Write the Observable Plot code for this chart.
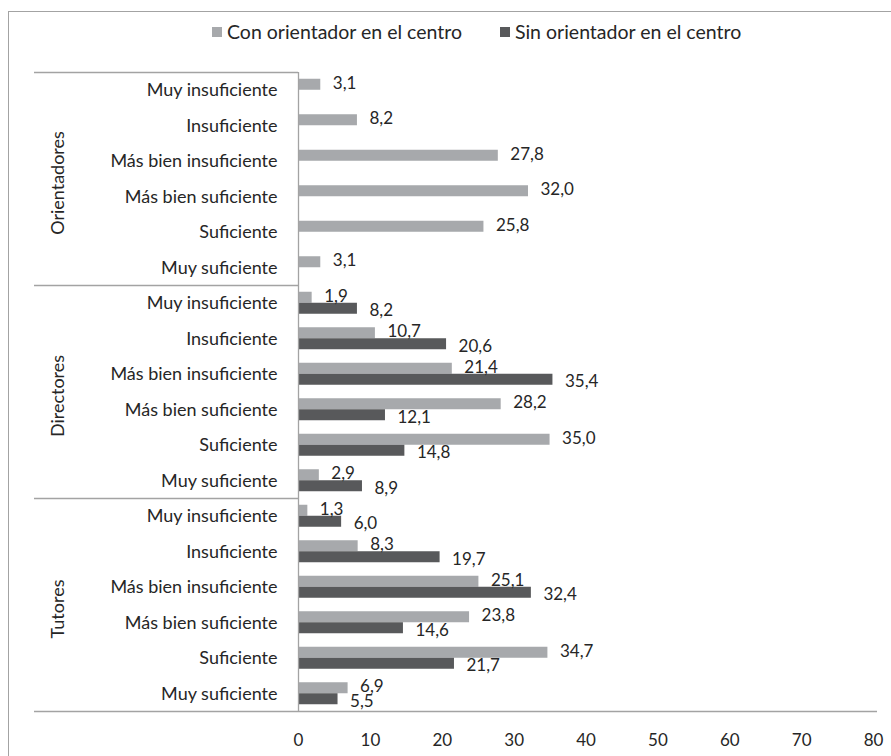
<!DOCTYPE html>
<html>
<head>
<meta charset="utf-8">
<script src="https://cdn.jsdelivr.net/npm/d3@7"></script>
<script src="https://cdn.jsdelivr.net/npm/@observablehq/plot@0.6"></script>
<style>
  html, body { margin: 0; padding: 0; background: #fff; }
  body { width: 891px; height: 756px; position: relative; overflow: hidden; font-family: Lato, "Open Sans", sans-serif; color: #262626; }
  #frame { position: absolute; left: 8px; top: 11px; width: 1000px; height: 900px; border: 1.5px solid #a3a3a3; box-sizing: border-box; }
  #legend { position: absolute; left: 212px; top: 20px; font-size: 19.5px; display: flex; gap: 38px; white-space: nowrap; }
  #legend span.item { display: inline-flex; align-items: center; gap: 5px; }
  #legend i { display: inline-block; width: 10px; height: 10px; }
  #chart { position: absolute; left: 0; top: 60px; }
</style>
</head>
<body>
<div id="frame"></div>
<div id="legend"></div>
<div id="chart"></div>
<script>
const groups = ["Orientadores", "Directores", "Tutores"];
const categories = ["Muy insuficiente", "Insuficiente", "Más bien insuficiente", "Más bien suficiente", "Suficiente", "Muy suficiente"];
const seriesNames = ["Con orientador en el centro", "Sin orientador en el centro"];
const seriesColors = ["#a7a9ac", "#58595b"];
// values per group, in category order
const conValues = [
  [3.1, 8.2, 27.8, 32.0, 25.8, 3.1],
  [1.9, 10.7, 21.4, 28.2, 35.0, 2.9],
  [1.3, 8.3, 25.1, 23.8, 34.7, 6.9]
];
const sinValues = [
  [null, null, null, null, null, null],
  [8.2, 20.6, 35.4, 12.1, 14.8, 8.9],
  [6.0, 19.7, 32.4, 14.6, 21.7, 5.5]
];
const xTicks = [0, 10, 20, 30, 40, 50, 60, 70, 80];

const keys = [];
const conRows = [], sinRows = [];
groups.forEach((g, gi) => categories.forEach((c, ci) => {
  const key = g + "|" + c;
  keys.push(key);
  if (conValues[gi][ci] != null) conRows.push({key, v: conValues[gi][ci]});
  if (sinValues[gi][ci] != null) sinRows.push({key, v: sinValues[gi][ci]});
}));
const groupStarts = groups.map(g => g + "|" + categories[0]);
const groupMids = groups.map(g => ({key: g + "|" + categories[2], label: g}));
const lastKey = keys[keys.length - 1];

const W = 891, H = 700, mT = 12, mB = 49, mL = 298, mR = 18;
const step = (H - mT - mB) / keys.length;
const half = step / 2;
const barH = 11;
const pad = half - barH;
const fmt = d => d.toFixed(1).replace(".", ",");
const lineColor = "#a3a3a3";
const txt = "#262626";

// legend
const legend = document.getElementById("legend");
seriesNames.forEach((n, i) => {
  const s = document.createElement("span");
  s.className = "item";
  s.innerHTML = `<i style="background:${seriesColors[i]}"></i>${n}`;
  legend.appendChild(s);
});

const chart = Plot.plot({
  width: W, height: H,
  marginTop: mT, marginBottom: mB, marginLeft: mL, marginRight: mR,
  style: {fontFamily: "Lato, 'Open Sans', sans-serif", fontSize: "17px", color: txt, background: "transparent", overflow: "visible"},
  x: {domain: [0, 80], ticks: xTicks, tickSize: 0, tickPadding: 22, label: null},
  y: {domain: keys, padding: 0, round: false, label: null},
  marks: [
    Plot.axisX({ticks: xTicks, tickSize: 0, tickPadding: 22, fontSize: 17, label: null}),
    Plot.axisY({tickSize: 0, tickPadding: 21, fontSize: 18, label: null, tickFormat: k => k.split("|")[1]}),
    Plot.barX(conRows, {x: "v", y: "key", fill: seriesColors[0], insetTop: pad, insetBottom: half}),
    Plot.barX(sinRows, {x: "v", y: "key", fill: seriesColors[1], insetTop: half, insetBottom: pad}),
    Plot.text(conRows, {x: "v", y: "key", text: d => fmt(d.v), dx: 12, dy: -barH / 2 - 1.5, textAnchor: "start", fill: txt, fontSize: 17}),
    Plot.text(sinRows, {x: "v", y: "key", text: d => fmt(d.v), dx: 12, dy: barH / 2 + 2, textAnchor: "start", fill: txt, fontSize: 17}),
    Plot.ruleY(groupStarts, {y: d => d, x1: 0, x2: 0, dy: -half, insetLeft: -264, stroke: lineColor, strokeWidth: 1.3}),
    Plot.ruleY([lastKey], {y: d => d, dy: half, insetLeft: -264, insetRight: -4, stroke: lineColor, strokeWidth: 1.3}),
    Plot.ruleX([0], {stroke: lineColor, strokeWidth: 1.3}),
    Plot.text(groupMids, {y: "key", text: "label", rotate: -90, frameAnchor: "left", textAnchor: "middle", dx: -240, dy: half + 4, fill: txt, fontSize: 18})
  ]
});
document.getElementById("chart").appendChild(chart);
</script>
</body>
</html>
